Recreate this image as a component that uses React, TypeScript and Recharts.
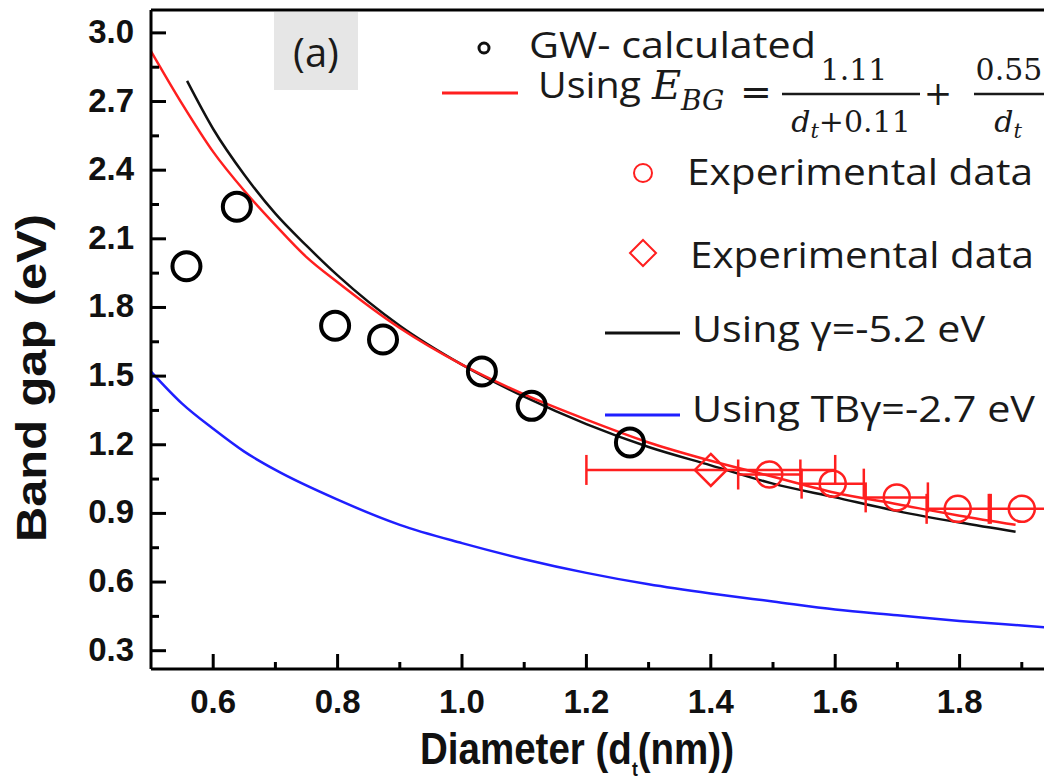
import {
  ComposedChart,
  Line,
  Scatter,
  XAxis,
  YAxis,
  ErrorBar,
  ReferenceLine,
} from "recharts";

// GW-calculated points (black open circles)
const gwDiameter = [0.557, 0.638, 0.796, 0.873, 1.032, 1.112, 1.27];
const gwGap = [1.98, 2.24, 1.72, 1.66, 1.52, 1.37, 1.21];

// experimental data, open red circles with x error
const expDiameter = [1.494, 1.596, 1.699, 1.797, 1.9];
const expGap = [1.07, 1.03, 0.97, 0.92, 0.92];
const expErr = [0.05, 0.05, 0.05, 0.05, 0.05];

// experimental data, red diamond
const exp2Diameter = [1.4];
const exp2Gap = [1.09];
const exp2Err = [0.2];

// fitted curve E_BG = 1.11/(dt+0.11) + 0.55/dt (red)
const fitDiameter = [0.5, 0.55, 0.6, 0.65, 0.7, 0.75, 0.8, 0.9, 1.0, 1.1, 1.2, 1.3, 1.4, 1.5, 1.6, 1.7, 1.8, 1.89];
const fitGap = [2.92, 2.69, 2.48, 2.31, 2.16, 2.02, 1.91, 1.71, 1.55, 1.42, 1.31, 1.21, 1.13, 1.06, 0.99, 0.94, 0.89, 0.85];

// gamma = -5.2 eV (black)
const gammaDiameter = [0.558, 0.6, 0.65, 0.7, 0.75, 0.8, 0.9, 1.0, 1.1, 1.2, 1.3, 1.4, 1.5, 1.6, 1.7, 1.8, 1.89];
const gammaGap = [2.79, 2.58, 2.38, 2.21, 2.07, 1.94, 1.72, 1.55, 1.41, 1.29, 1.19, 1.11, 1.03, 0.97, 0.91, 0.86, 0.82];

// TB gamma = -2.7 eV (blue)
const tbDiameter = [0.5, 0.55, 0.6, 0.65, 0.7, 0.8, 0.9, 1.0, 1.1, 1.2, 1.3, 1.4, 1.5, 1.6, 1.7, 1.8, 1.9, 2.0];
const tbGap = [1.52, 1.38, 1.27, 1.17, 1.09, 0.96, 0.85, 0.77, 0.7, 0.64, 0.59, 0.55, 0.515, 0.48, 0.455, 0.43, 0.41, 0.39];

const xTicks = [0.6, 0.7, 0.8, 0.9, 1.0, 1.1, 1.2, 1.3, 1.4, 1.5, 1.6, 1.7, 1.8, 1.9];
const xMajor = [0.6, 0.8, 1.0, 1.2, 1.4, 1.6, 1.8];
const yTicks = [0.3, 0.45, 0.6, 0.75, 0.9, 1.05, 1.2, 1.35, 1.5, 1.65, 1.8, 1.95, 2.1, 2.25, 2.4, 2.55, 2.7, 2.85, 3.0];
const yMajor = [0.3, 0.6, 0.9, 1.2, 1.5, 1.8, 2.1, 2.4, 2.7, 3.0];

const zip = (xs: number[], ys: number[], errs?: number[]) =>
  xs.map((x, i) => ({ x, y: ys[i], err: errs ? errs[i] : 0 }));

const gwData = zip(gwDiameter, gwGap);
const expData = zip(expDiameter, expGap, expErr);
const exp2Data = zip(exp2Diameter, exp2Gap, exp2Err);
const fitData = zip(fitDiameter, fitGap);
const gammaData = zip(gammaDiameter, gammaGap);
const tbData = zip(tbDiameter, tbGap);

const RED = "#ff1f1f";
const BLUE = "#1f1fff";
const tickFont = "'Liberation Sans', Arial, sans-serif";
const legendFont = "'Open Sans', 'Noto Sans', sans-serif";
const mathFont = "'DejaVu Serif', serif";

function XTick(props: any) {
  const { x, y, payload } = props;
  const major = xMajor.some((v) => Math.abs(v - payload.value) < 1e-6);
  return (
    <g>
      <line x1={x} x2={x} y1={y} y2={y - (major ? 15 : 7)} stroke="#000" strokeWidth={3} />
      {major && (
        <text x={x} y={y + 44} textAnchor="middle" fontFamily={tickFont} fontWeight="bold" fontSize={33} fill="#111">
          {payload.value.toFixed(1)}
        </text>
      )}
    </g>
  );
}

function YTick(props: any) {
  const { x, y, payload } = props;
  const major = yMajor.some((v) => Math.abs(v - payload.value) < 1e-6);
  return (
    <g>
      <line x1={x} x2={x + (major ? 15 : 8)} y1={y} y2={y} stroke="#000" strokeWidth={3} />
      {major && (
        <text x={x - 17} y={y + 10} textAnchor="end" fontFamily={tickFont} fontWeight="bold" fontSize={33} fill="#111">
          {payload.value.toFixed(1)}
        </text>
      )}
    </g>
  );
}

const blackCircle = (p: any) => (
  <circle cx={p.cx} cy={p.cy} r={14} fill="none" stroke="#000" strokeWidth={4} />
);
const redCircle = (p: any) => (
  <circle cx={p.cx} cy={p.cy} r={13} fill="none" stroke={RED} strokeWidth={2.5} />
);
const redDiamond = (p: any) => (
  <polygon
    points={`${p.cx},${p.cy - 16} ${p.cx + 16},${p.cy} ${p.cx},${p.cy + 16} ${p.cx - 16},${p.cy}`}
    fill="none"
    stroke={RED}
    strokeWidth={2.5}
  />
);

function Overlay() {
  const txt = { fontFamily: legendFont, fontSize: 36, fill: "#1a1a1a" };
  return (
    <svg width={1044} height={783} style={{ position: "absolute", left: 0, top: 0, pointerEvents: "none" }}>
      {/* axis titles */}
      <text
        transform="translate(46,378) rotate(-90)"
        textAnchor="middle"
        fontFamily={tickFont}
        fontWeight="bold"
        fontSize={43}
        fill="#111"
        textLength={328}
        lengthAdjust="spacingAndGlyphs"
      >
        Band gap (eV)
      </text>
      <text x={420} y={764} fontFamily={tickFont} fontWeight="bold" fontSize={44} fill="#111" textLength={314} lengthAdjust="spacingAndGlyphs">
        Diameter (d
        <tspan fontSize={20} dy={12}>t</tspan>
        <tspan dy={-12}>(nm))</tspan>
      </text>

      {/* panel label */}
      <rect x={274} y={12} width={84} height={78} fill="#e6e6e6" />
      <text x={316} y={67} textAnchor="middle" {...txt} fontSize={40}>(a)</text>

      {/* legend */}
      <circle cx={484} cy={48} r={5} fill="none" stroke="#111" strokeWidth={3} />
      <text x={529} y={58} {...txt} textLength={287} lengthAdjust="spacingAndGlyphs">GW- calculated</text>

      <line x1={442} x2={518} y1={93} y2={93} stroke={RED} strokeWidth={3} />
      <text x={538} y={98} {...txt} textLength={103} lengthAdjust="spacingAndGlyphs">Using</text>
      <text x={652} y={99} fontFamily={mathFont} fontStyle="italic" fontSize={40} fill="#1a1a1a">E</text>
      <text x={681} y={110} fontFamily={mathFont} fontStyle="italic" fontSize={28} fill="#1a1a1a">BG</text>
      <text x={756} y={105} textAnchor="middle" fontFamily={mathFont} fontSize={38} fill="#1a1a1a">=</text>
      <text x={854} y={80} textAnchor="middle" fontFamily={mathFont} fontSize={30} fill="#1a1a1a">1.11</text>
      <line x1={782} x2={920} y1={94} y2={94} stroke="#1a1a1a" strokeWidth={2.5} />
      <text x={851} y={132} textAnchor="middle" fontFamily={mathFont} fontSize={30} fill="#1a1a1a">
        <tspan fontStyle="italic">d</tspan>
        <tspan fontStyle="italic" fontSize={21} dy={6}>t</tspan>
        <tspan dy={-6}>+0.11</tspan>
      </text>
      <text x={938} y={105} textAnchor="middle" fontFamily={mathFont} fontSize={34} fill="#1a1a1a">+</text>
      <text x={1009} y={80} textAnchor="middle" fontFamily={mathFont} fontSize={30} fill="#1a1a1a">0.55</text>
      <line x1={974} x2={1044} y1={94} y2={94} stroke="#1a1a1a" strokeWidth={2.5} />
      <text x={1008} y={132} textAnchor="middle" fontFamily={mathFont} fontSize={30} fill="#1a1a1a">
        <tspan fontStyle="italic">d</tspan>
        <tspan fontStyle="italic" fontSize={21} dy={6}>t</tspan>
      </text>

      <circle cx={643} cy={173} r={9} fill="none" stroke={RED} strokeWidth={2} />
      <text x={687} y={185} {...txt} textLength={346} lengthAdjust="spacingAndGlyphs">Experimental data</text>

      <polygon points="643,240 656,253 643,266 630,253" fill="none" stroke={RED} strokeWidth={2} />
      <text x={690} y={268} {...txt} textLength={344} lengthAdjust="spacingAndGlyphs">Experimental data</text>

      <line x1={605} x2={680} y1={333} y2={333} stroke="#111" strokeWidth={3} />
      <text x={692} y={342} {...txt} textLength={293} lengthAdjust="spacingAndGlyphs">Using γ=-5.2 eV</text>

      <line x1={605} x2={680} y1={415} y2={415} stroke={BLUE} strokeWidth={3} />
      <text x={692} y={422} {...txt} textLength={343} lengthAdjust="spacingAndGlyphs">Using TBγ=-2.7 eV</text>
    </svg>
  );
}

export default function App() {
  return (
    <div
      style={{
        position: "fixed",
        left: 0,
        top: 0,
        width: 1044,
        height: 783,
        overflow: "hidden",
        background: "#fff",
      }}
    >
      <ComposedChart width={1100} height={783} margin={{ top: 10, right: 16, left: 0, bottom: 0 }}>
        <XAxis
          type="number"
          dataKey="x"
          domain={[0.5, 2.0]}
          ticks={xTicks}
          interval={0}
          allowDataOverflow
          height={114}
          tickSize={0}
          tickMargin={0}
          tickLine={false}
          axisLine={{ stroke: "#000", strokeWidth: 3 }}
          tick={<XTick />}
        />
        <YAxis
          type="number"
          dataKey="y"
          domain={[0.22, 3.1]}
          ticks={yTicks}
          interval={0}
          allowDataOverflow
          width={151}
          tickSize={0}
          tickMargin={0}
          tickLine={false}
          axisLine={{ stroke: "#000", strokeWidth: 3 }}
          tick={<YTick />}
        />
        <ReferenceLine y={3.1} stroke="#000" strokeWidth={3} />
        <Line data={tbData} dataKey="y" type="monotone" stroke={BLUE} strokeWidth={2.5} dot={false} isAnimationActive={false} />
        <Scatter data={gwData} dataKey="y" shape={blackCircle} isAnimationActive={false} />
        <Line data={gammaData} dataKey="y" type="monotone" stroke="#111" strokeWidth={2.5} dot={false} isAnimationActive={false} />
        <Line data={fitData} dataKey="y" type="monotone" stroke={RED} strokeWidth={2.5} dot={false} isAnimationActive={false} />
        <Scatter data={exp2Data} dataKey="y" shape={redDiamond} isAnimationActive={false}>
          <ErrorBar dataKey="err" direction="x" width={15} stroke={RED} strokeWidth={2.5} />
        </Scatter>
        <Scatter data={expData} dataKey="y" shape={redCircle} isAnimationActive={false}>
          <ErrorBar dataKey="err" direction="x" width={15} stroke={RED} strokeWidth={2.5} />
        </Scatter>
      </ComposedChart>
      <Overlay />
    </div>
  );
}
